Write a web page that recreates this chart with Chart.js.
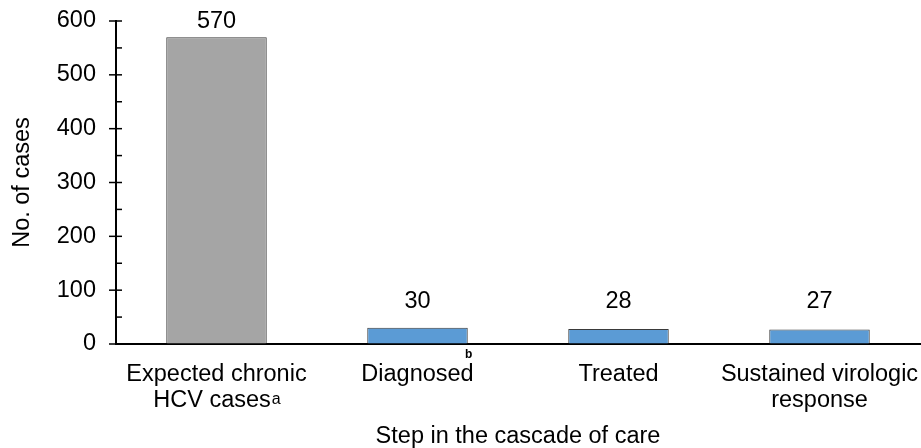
<!DOCTYPE html>
<html>
<head>
<meta charset="utf-8">
<script src="https://cdn.jsdelivr.net/npm/chart.js@4"></script>
<style>
  html, body { margin: 0; padding: 0; background: #fff; }
  #wrap { width: 921px; height: 448px; }
</style>
</head>
<body>
<div id="wrap"><canvas id="c" width="921" height="448"></canvas></div>
<script>
// Steps of the hepatitis C cascade of care (multi-line category labels)
const categories = [
  ['Expected chronic', 'HCV cases'],
  ['Diagnosed'],
  ['Treated'],
  ['Sustained virologic', 'response']
];
// Footnote marks attached to the category labels
const footnotes = ['a', 'b', '', ''];
// Number of cases at each step
const cases = [570, 30, 28, 27];
// Y-axis tick values
const yTicks = [0, 100, 200, 300, 400, 500, 600];

const FONT = '"Liberation Sans", Arial, Helvetica, sans-serif';
const FS = 23.5;
const TEXT = '#000000';
const GRAY = '#A5A5A5';
const BLUE = '#5B9BD5';
const EDGE = '#3A3A3A';

// Draws tick marks, value labels and category labels with their footnote marks
const annotate = {
  id: 'annotate',
  afterDatasetsDraw(chart) {
    const { ctx, chartArea, scales: { x, y } } = chart;
    ctx.save();

    // major ticks cross the axis, minor ticks sit inside
    ctx.strokeStyle = '#000';
    ctx.lineWidth = 1.5;
    const ax = chartArea.left;
    const seg = (x1, y1, x2, y2) => { ctx.beginPath(); ctx.moveTo(x1, y1); ctx.lineTo(x2, y2); ctx.stroke(); };
    yTicks.forEach((v, i) => {
      const py = y.getPixelForValue(v);
      seg(ax - 7, py, ax + 6, py);
      if (i < yTicks.length - 1) {
        const pm = y.getPixelForValue((v + yTicks[i + 1]) / 2);
        seg(ax, pm, ax + 6, pm);
      }
    });

    // value labels above the bars
    const meta = chart.getDatasetMeta(0);
    ctx.fillStyle = TEXT;
    ctx.font = FS + 'px ' + FONT;
    ctx.textAlign = 'center';
    ctx.textBaseline = 'middle';
    meta.data.forEach((bar, i) => {
      const ly = Math.min(bar.y - 16, bar.base - 42);
      ctx.fillText(String(cases[i]), bar.x, ly);
    });

    // category labels
    ctx.textBaseline = 'alphabetic';
    categories.forEach((lines, i) => {
      const cx = x.getPixelForValue(i);
      const mark = footnotes[i];
      lines.forEach((t, j) => {
        const by = chartArea.bottom + 37 + j * 26;
        ctx.font = FS + 'px ' + FONT;
        const w = ctx.measureText(t).width;
        const last = j === lines.length - 1;
        if (mark && last && lines.length > 1) {
          // trailing superscript on the second line
          ctx.font = '16px ' + FONT;
          const wm = ctx.measureText(mark).width;
          const start = cx - (w + wm) / 2;
          ctx.textAlign = 'left';
          ctx.font = FS + 'px ' + FONT;
          ctx.fillText(t, start, by);
          ctx.font = '16px ' + FONT;
          ctx.fillText(mark, start + w + 1, by - 3);
        } else {
          ctx.textAlign = 'center';
          ctx.fillText(t, cx, by);
          if (mark && last) {
            // raised mark above the end of a single-line label
            ctx.font = 'bold 12px ' + FONT;
            ctx.fillText(mark, cx + w / 2 - 5, by - 23);
          }
        }
      });
    });
    ctx.restore();
  }
};

new Chart(document.getElementById('c'), {
  type: 'bar',
  data: {
    labels: categories.map(l => l.join(' ')),
    datasets: [{
      label: 'No. of cases',
      data: cases,
      backgroundColor: c => (c.dataIndex === 0 ? GRAY : BLUE),
      borderColor: EDGE,
      borderWidth: 1,
      borderSkipped: 'bottom',
      barPercentage: 0.5,
      categoryPercentage: 1.0
    }]
  },
  options: {
    responsive: false,
    animation: false,
    layout: { padding: { top: 21, right: 1, bottom: 0, left: 0 } },
    plugins: { legend: { display: false }, tooltip: { enabled: false } },
    scales: {
      x: {
        offset: true,
        grid: { display: true, drawOnChartArea: false, drawTicks: false, color: 'transparent' },
        border: { display: true, color: '#000', width: 2 },
        ticks: { display: false },
        title: {
          display: true,
          text: 'Step in the cascade of care',
          color: TEXT,
          font: { family: FONT, size: FS, lineHeight: 1.0 },
          padding: { top: 0, bottom: 0 }
        },
        afterFit: s => { s.height = 104; s.paddingLeft = 0; s.paddingRight = 0; }
      },
      y: {
        min: 0,
        max: 600,
        afterBuildTicks: s => { s.ticks = yTicks.map(v => ({ value: v })); },
        grid: { display: true, drawOnChartArea: false, drawTicks: false, color: 'transparent' },
        border: { display: true, color: '#000', width: 2 },
        ticks: {
          color: TEXT,
          padding: 20,
          font: { family: FONT, size: FS }
        },
        title: {
          display: true,
          text: 'No. of cases',
          color: TEXT,
          font: { family: FONT, size: FS, lineHeight: 1.2 },
          padding: { top: 8, bottom: 0 }
        },
        afterFit: s => { s.width = 116; s.paddingTop = 0; s.paddingBottom = 0; }
      }
    }
  },
  plugins: [annotate]
});
</script>
</body>
</html>
